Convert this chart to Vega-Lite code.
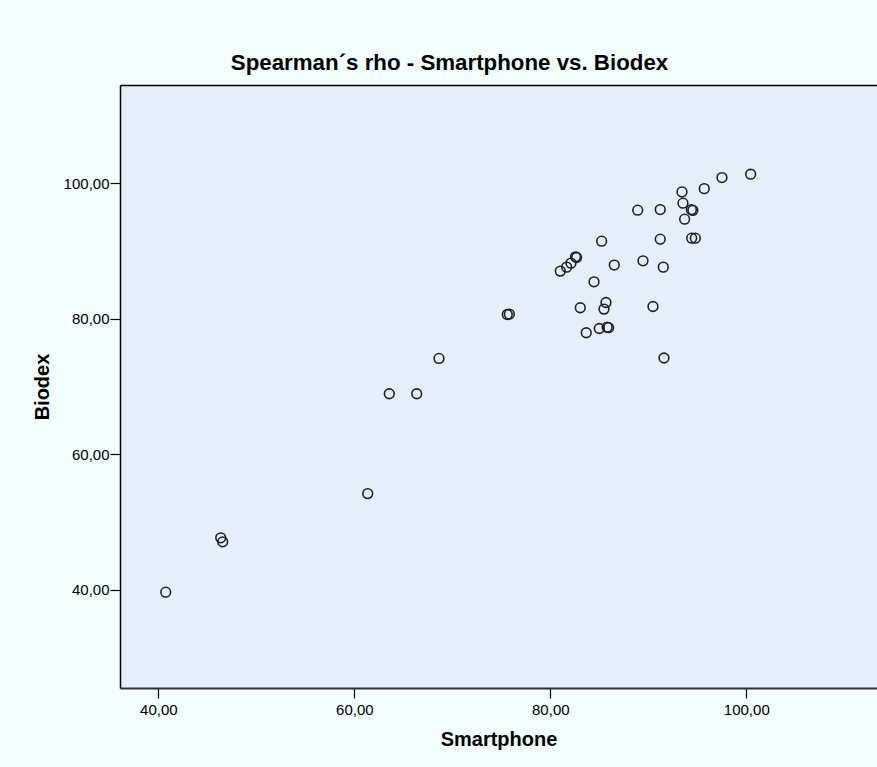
{
  "$schema": "https://vega.github.io/schema/vega-lite/v6.json",
  "width": 757,
  "height": 603,
  "autosize": {"type": "none"},
  "padding": {"left": 120, "top": 85, "right": 0, "bottom": 79},
  "background": "#F3FEFE",
  "title": {
    "text": "Spearman´s rho - Smartphone vs. Biodex",
    "font": "Liberation Sans",
    "fontSize": 22.3,
    "fontWeight": "bold",
    "color": "#000000",
    "anchor": "middle",
    "dx": -49,
    "dy": 22,
    "baseline": "alphabetic",
    "offset": 15
  },
  "data": {
    "values": [
      {"s": 100.45, "b": 101.36},
      {"s": 97.52, "b": 100.86},
      {"s": 95.71, "b": 99.23},
      {"s": 93.44, "b": 98.75},
      {"s": 93.54, "b": 97.08},
      {"s": 94.40, "b": 96.12},
      {"s": 94.55, "b": 96.02},
      {"s": 93.71, "b": 94.72},
      {"s": 88.92, "b": 96.05},
      {"s": 91.22, "b": 96.14},
      {"s": 85.24, "b": 91.47},
      {"s": 91.22, "b": 91.77},
      {"s": 94.43, "b": 91.92},
      {"s": 94.80, "b": 91.92},
      {"s": 82.58, "b": 89.16},
      {"s": 82.68, "b": 89.06},
      {"s": 82.11, "b": 88.23},
      {"s": 81.67, "b": 87.64},
      {"s": 81.02, "b": 87.05},
      {"s": 86.53, "b": 87.94},
      {"s": 89.46, "b": 88.57},
      {"s": 91.53, "b": 87.64},
      {"s": 84.46, "b": 85.47},
      {"s": 83.06, "b": 81.64},
      {"s": 85.68, "b": 82.42},
      {"s": 85.48, "b": 81.44},
      {"s": 90.48, "b": 81.83},
      {"s": 83.67, "b": 77.95},
      {"s": 85.00, "b": 78.58},
      {"s": 85.80, "b": 78.78},
      {"s": 85.95, "b": 78.70},
      {"s": 91.60, "b": 74.22},
      {"s": 75.61, "b": 80.65},
      {"s": 75.82, "b": 80.70},
      {"s": 68.64, "b": 74.16},
      {"s": 63.57, "b": 68.95},
      {"s": 66.37, "b": 68.95},
      {"s": 61.37, "b": 54.20},
      {"s": 46.37, "b": 47.67},
      {"s": 46.57, "b": 47.08},
      {"s": 40.76, "b": 39.65}
    ]
  },
  "layer": [
    {
      "mark": {"type": "point", "shape": "circle", "filled": false, "size": 95, "stroke": "#222222", "strokeWidth": 1.6, "opacity": 1},
      "encoding": {
        "x": {
          "field": "s", "type": "quantitative",
          "scale": {"domain": [36.09, 113.34], "nice": false, "zero": false},
          "axis": {
            "orient": "bottom",
            "values": [40, 60, 80, 100],
            "labelExpr": "replace(format(datum.value, '.2f'), '.', ',')",
            "grid": false,
            "domainColor": "#333333", "domainWidth": 2,
            "tickColor": "#000000", "tickSize": 10, "tickWidth": 1.2,
            "labelFont": "Liberation Sans", "labelFontSize": 15, "labelColor": "#000000", "labelPadding": 4,
            "title": "Smartphone", "titleFont": "Liberation Sans", "titleFontSize": 20, "titleFontWeight": "bold", "titleColor": "#000000", "titlePadding": 12
          }
        },
        "y": {
          "field": "b", "type": "quantitative",
          "scale": {"domain": [25.5, 114.53], "nice": false, "zero": false},
          "axis": {
            "values": [40, 60, 80, 100],
            "labelExpr": "replace(format(datum.value, '.2f'), '.', ',')",
            "grid": false,
            "domainColor": "#000000", "domainWidth": 1.5,
            "tickColor": "#000000", "tickSize": 10, "tickWidth": 1.2,
            "labelFont": "Liberation Sans", "labelFontSize": 15, "labelColor": "#000000", "labelPadding": 1,
            "title": "Biodex", "titleFont": "Liberation Sans", "titleFontSize": 20, "titleFontWeight": "bold", "titleColor": "#000000", "titlePadding": 11
          }
        }
      }
    },
    {
      "mark": {"type": "point", "opacity": 0},
      "encoding": {
        "x": {
          "field": "s", "type": "quantitative",
          "axis": {"orient": "top", "labels": false, "ticks": false, "grid": false, "title": null, "domainColor": "#000000", "domainWidth": 1.5}
        }
      }
    }
  ],
  "resolve": {"axis": {"x": "independent"}},
  "config": {
    "view": {"fill": "#E5EFFC", "stroke": null}
  }
}
